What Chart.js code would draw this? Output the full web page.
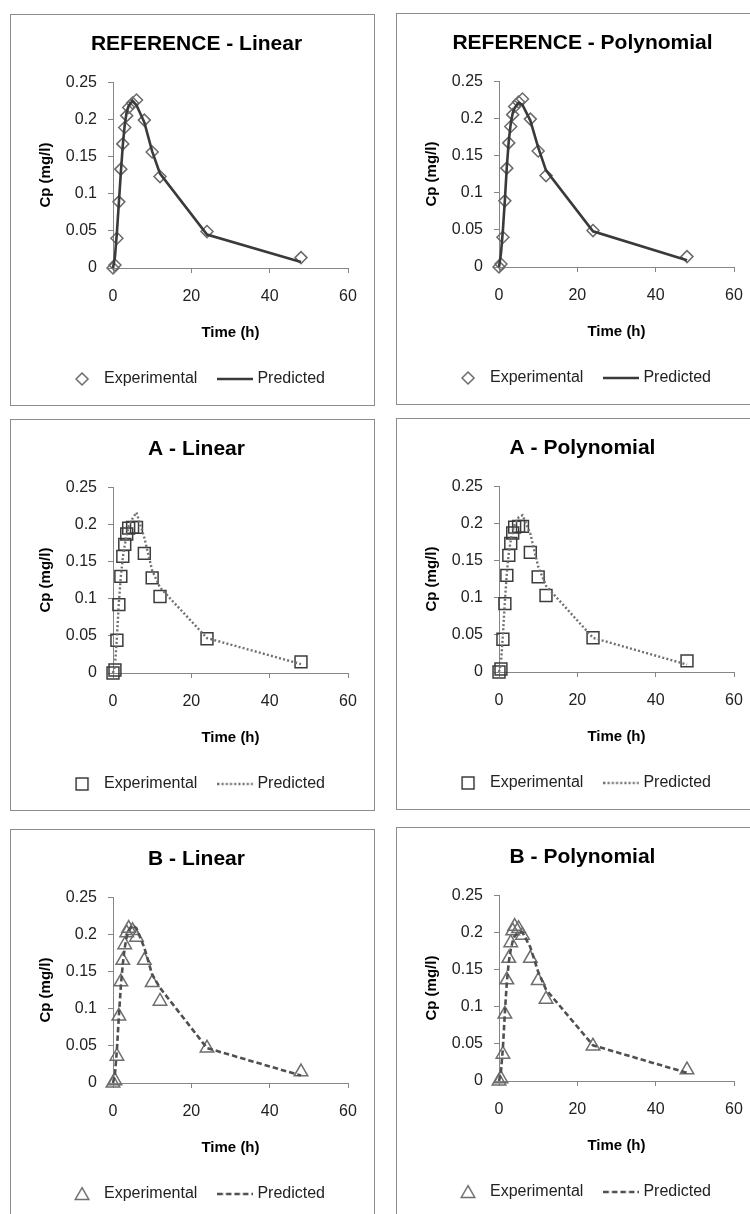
<!DOCTYPE html>
<html><head><meta charset="utf-8">
<script src="https://cdn.jsdelivr.net/npm/chart.js@4"></script>
<style>
html,body{margin:0;padding:0;background:#fff;}
body{width:750px;height:1214px;overflow:hidden;position:relative;font-family:"Liberation Sans",Arial,sans-serif;}
.panel{position:absolute;width:365px;height:392px;border:1px solid #8c8c8c;box-sizing:border-box;background:#fff;}
.holder{position:absolute;width:365px;height:392px;}
</style></head><body>
<script>
// ---- data ----
const times = [0, 0.5, 1, 1.5, 2, 2.5, 3, 3.5, 4, 5, 6, 8, 10, 12, 24, 48];

const refExp        = [0, 0.004, 0.040, 0.089, 0.133, 0.167, 0.189, 0.205, 0.216, 0.222, 0.226, 0.199, 0.156, 0.123, 0.049, 0.014];
const refPredLinear = [0, 0.015, 0.048, 0.088, 0.128, 0.165, 0.193, 0.210, 0.218, 0.225, 0.219, 0.196, 0.157, 0.127, 0.045, 0.008];
const refPredPoly   = [0, 0.018, 0.050, 0.090, 0.135, 0.170, 0.193, 0.207, 0.214, 0.221, 0.218, 0.197, 0.161, 0.130, 0.048, 0.009];

const aExp          = [0, 0.004, 0.044, 0.092, 0.130, 0.157, 0.173, 0.187, 0.195, 0.196, 0.196, 0.161, 0.128, 0.103, 0.046, 0.015];
const aPredLinear   = [0, 0.010, 0.048, 0.095, 0.130, 0.155, 0.172, 0.186, 0.198, 0.208, 0.216, 0.182, 0.138, 0.115, 0.047, 0.012];
const aPredPoly     = [0, 0.012, 0.050, 0.095, 0.133, 0.160, 0.177, 0.190, 0.198, 0.208, 0.211, 0.186, 0.142, 0.116, 0.046, 0.010];

const bExp          = [0, 0.003, 0.036, 0.090, 0.136, 0.165, 0.186, 0.202, 0.208, 0.205, 0.196, 0.165, 0.135, 0.110, 0.047, 0.015];
const bPredLinear   = [0, 0.012, 0.045, 0.090, 0.130, 0.160, 0.182, 0.197, 0.205, 0.212, 0.208, 0.182, 0.146, 0.128, 0.047, 0.010];
const bPredPoly     = [0, 0.012, 0.045, 0.092, 0.133, 0.160, 0.177, 0.188, 0.195, 0.200, 0.200, 0.180, 0.147, 0.123, 0.048, 0.011];

const xTickLabels = ['0', '20', '40', '60'];
const yTickLabels = ['0', '0.05', '0.1', '0.15', '0.2', '0.25'];
const titles = ['REFERENCE - Linear', 'REFERENCE - Polynomial', 'A - Linear', 'A - Polynomial', 'B - Linear', 'B - Polynomial'];
const seriesNames = ['Experimental', 'Predicted'];
const xTitle = 'Time (h)';
const yTitle = 'Cp (mg/l)';

// ---- layout / styles ----
const panels = [
  {title: titles[0], left: 10,  top: 14,  exp: refExp, pred: refPredLinear, marker: 'diamond'},
  {title: titles[1], left: 396, top: 13,  exp: refExp, pred: refPredPoly,   marker: 'diamond'},
  {title: titles[2], left: 10,  top: 419, exp: aExp,   pred: aPredLinear,   marker: 'square'},
  {title: titles[3], left: 396, top: 418, exp: aExp,   pred: aPredPoly,     marker: 'square'},
  {title: titles[4], left: 10,  top: 829, exp: bExp,   pred: bPredLinear,   marker: 'triangle'},
  {title: titles[5], left: 396, top: 827, exp: bExp,   pred: bPredPoly,     marker: 'triangle'}
];
const markerStyle = {
  diamond:  {pointStyle: 'rectRot',  radius: 6,   color: '#6a6a6a'},
  square:   {pointStyle: 'rect',     radius: 8.4, color: '#3c3c3c'},
  triangle: {pointStyle: 'triangle', radius: 7.8, color: '#6e6e6e'}
};
const lineStyle = {
  diamond:  {color: '#3a3a3a', width: 2.6, dash: []},
  square:   {color: '#707070', width: 2.4, dash: [2, 2.2]},
  triangle: {color: '#505050', width: 2.6, dash: [5.5, 3]}
};
const axisColor = '#868686';
const textColor = '#222222';
Chart.defaults.font.family = '"Liberation Sans", Arial, sans-serif';

function markerIcon(kind) {
  const s = markerStyle[kind];
  const c = document.createElement('canvas');
  c.width = 22; c.height = 22;
  const g = c.getContext('2d');
  g.strokeStyle = s.color; g.lineWidth = 1.5;
  const x = 11, y = 11, r = s.radius;
  g.beginPath();
  if (kind === 'diamond') {
    g.moveTo(x - r, y); g.lineTo(x, y - r); g.lineTo(x + r, y); g.lineTo(x, y + r); g.closePath();
  } else if (kind === 'square') {
    const h = r * Math.SQRT1_2; g.rect(x - h, y - h, 2 * h, 2 * h);
  } else {
    for (let k = 0; k < 3; k++) {
      const a = k * 2 * Math.PI / 3;
      const px = x + Math.sin(a) * r, py = y + 1.5 - Math.cos(a) * r;
      if (k === 0) g.moveTo(px, py); else g.lineTo(px, py);
    }
    g.closePath();
  }
  g.stroke();
  return c;
}
function lineIcon(kind) {
  const s = lineStyle[kind];
  const c = document.createElement('canvas');
  c.width = 36; c.height = 6;
  const g = c.getContext('2d');
  g.strokeStyle = s.color; g.lineWidth = s.width; g.setLineDash(s.dash);
  g.beginPath(); g.moveTo(0, 3); g.lineTo(36, 3); g.stroke();
  return c;
}

panels.forEach((p) => {
  const box = document.createElement('div');
  box.className = 'panel';
  box.style.left = p.left + 'px'; box.style.top = p.top + 'px';
  document.body.appendChild(box);
  const holder = document.createElement('div');
  holder.className = 'holder';
  holder.style.left = p.left + 'px'; holder.style.top = p.top + 'px';
  const cv = document.createElement('canvas');
  cv.width = 365; cv.height = 392;
  holder.appendChild(cv);
  document.body.appendChild(holder);

  const ms = markerStyle[p.marker], ls = lineStyle[p.marker];
  const mIcon = markerIcon(p.marker), lIcon = lineIcon(p.marker);

  new Chart(cv, {
    type: 'scatter',
    data: {
      datasets: [
        {
          label: seriesNames[0],
          data: times.map((t, i) => ({x: t, y: p.exp[i]})),
          showLine: false,
          pointStyle: ms.pointStyle,
          pointRadius: ms.radius,
          pointHoverRadius: ms.radius,
          pointBorderWidth: 1.5,
          pointBorderColor: ms.color,
          pointBackgroundColor: 'rgba(0,0,0,0)',
          clip: false,
          order: 1
        },
        {
          label: seriesNames[1],
          data: times.map((t, i) => ({x: t, y: p.pred[i]})),
          showLine: true,
          pointRadius: 0,
          pointHoverRadius: 0,
          borderColor: ls.color,
          borderWidth: ls.width,
          borderDash: ls.dash,
          backgroundColor: 'rgba(0,0,0,0)',
          fill: false,
          tension: 0,
          clip: false,
          order: 0
        }
      ]
    },
    options: {
      responsive: false,
      animation: false,
      devicePixelRatio: 1,
      layout: {padding: {left: 8, right: 0, top: 0, bottom: 9}},
      plugins: {
        title: {
          display: true, text: p.title, color: '#000',
          font: {size: 21, weight: 'bold'},
          padding: {top: 18, bottom: 25}
        },
        legend: {
          display: true, position: 'bottom',
          labels: {
            usePointStyle: true, pointStyleWidth: 28, padding: 24,
            color: textColor, font: {size: 16},
            generateLabels: () => [
              {text: seriesNames[0], pointStyle: mIcon, fillStyle: 'rgba(0,0,0,0)', strokeStyle: 'rgba(0,0,0,0)', lineWidth: 0, hidden: false, datasetIndex: 0, fontColor: textColor},
              {text: seriesNames[1], pointStyle: lIcon, fillStyle: 'rgba(0,0,0,0)', strokeStyle: 'rgba(0,0,0,0)', lineWidth: 0, hidden: false, datasetIndex: 1, fontColor: textColor}
            ]
          }
        },
        tooltip: {enabled: false}
      },
      scales: {
        x: {
          type: 'linear', position: 'bottom', min: 0, max: 60,
          ticks: {stepSize: 20, padding: 14, color: textColor, font: {size: 16},
                  callback: (v, i) => xTickLabels[i]},
          grid: {display: true, drawOnChartArea: false, drawTicks: true, tickLength: 5, color: axisColor, lineWidth: 1},
          border: {display: true, color: axisColor, width: 1},
          title: {display: true, text: xTitle, color: '#000', font: {size: 15, weight: 'bold'}, padding: {top: 0, bottom: 5}},
          afterFit: (s) => { s.height = 79; }
        },
        y: {
          type: 'linear', position: 'left', min: 0, max: 0.25,
          ticks: {stepSize: 0.05, padding: 11, color: textColor, font: {size: 16},
                  callback: (v, i) => yTickLabels[i]},
          grid: {display: true, drawOnChartArea: false, drawTicks: true, tickLength: 5, color: axisColor, lineWidth: 1},
          border: {display: true, color: axisColor, width: 1},
          title: {display: true, text: yTitle, color: '#000', font: {size: 15, weight: 'bold'}, padding: {top: 19, bottom: 0}},
          afterFit: (s) => { s.width = 95; }
        },
        y2: {
          type: 'linear', position: 'right', display: true,
          ticks: {display: false}, grid: {display: false}, border: {display: false},
          afterFit: (s) => { s.width = 27; }
        }
      }
    }
  });
});
</script>
</body></html>
